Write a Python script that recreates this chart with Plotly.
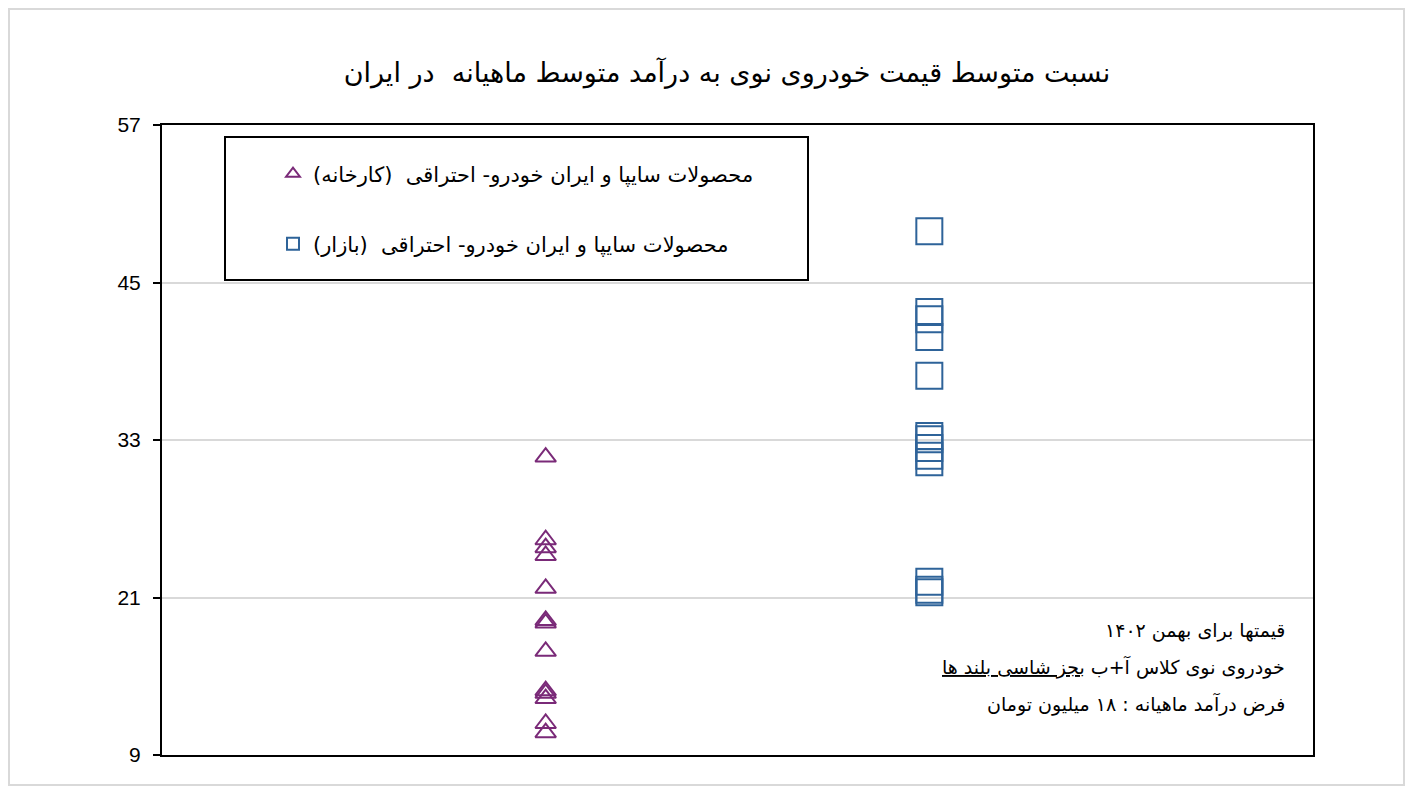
import plotly.graph_objects as go

# ratio of average new-car price to average monthly income
factory_vals = [31.7, 25.4, 24.8, 24.2, 21.7, 19.25, 19.05, 16.9, 13.9, 13.7, 13.3, 11.4, 10.7]
market_vals = [48.9, 42.75, 42.2, 40.85, 37.9, 33.3, 33.05, 32.4, 31.8, 31.3, 22.2, 21.6, 21.4]
factory_x = [1] * len(factory_vals)
market_x = [2] * len(market_vals)

factory_name = "محصولات سایپا و ایران خودرو- احتراقی  (کارخانه)"
market_name = "محصولات سایپا و ایران خودرو- احتراقی  (بازار)"
title_text = "نسبت متوسط قیمت خودروی نوی به درآمد متوسط ماهیانه  در ایران"
note_lines = [
    "قیمتها برای بهمن ۱۴۰۲",
    "خودروی نوی کلاس آ+ب <u>بجز شاسی بلند ها</u>",
    "فرض درآمد ماهیانه : ۱۸ میلیون تومان",
]
y_ticks = [9, 21, 33, 45, 57]

purple = "#7a2a78"
blue = "#2e6399"
txt_font = "DejaVu Sans, Noto Sans, sans-serif"

# page has an 8px body margin, so figure is a bit smaller than the window
OFF = 8
W, H = 1413 - 2 * OFF, 794 - 2 * OFF
L, T = 162 - OFF, 125 - OFF
pw, ph = 1151, 630
R, B = W - L - pw, H - T - ph


def px_x(p):
    # screen pixel -> paper x
    return (p - OFF - L) / pw


def px_y(p):
    # screen pixel -> paper y
    return (T + ph + OFF - p) / ph


fig = go.Figure()
fig.add_trace(go.Scatter(
    x=factory_x, y=factory_vals, mode="markers", name=factory_name, showlegend=True,
    marker=dict(symbol="triangle-up-open", size=18, color=purple, line=dict(width=2, color=purple)),
    legend="legend",
))
fig.add_trace(go.Scatter(
    x=market_x, y=market_vals, mode="markers", name=market_name, showlegend=True,
    marker=dict(symbol="square-open", size=26, color=blue, line=dict(width=2, color=blue)),
    legend="legend2",
))

legend_common = dict(
    xanchor="left", yanchor="middle", bgcolor="rgba(0,0,0,0)", visible=True,
    font=dict(family=txt_font, size=21, color="black"), itemsizing="constant",
)
fig.update_layout(
    width=W, height=H,
    margin=dict(l=L, r=R, t=T, b=B),
    showlegend=True,
    paper_bgcolor="white", plot_bgcolor="white",
    title=dict(text=title_text, x=px_x(727), xref="paper", y=1 - (73 - OFF) / H, yanchor="middle",
               font=dict(family=txt_font, size=27, color="black")),
    legend=dict(x=px_x(273), y=px_y(174), **legend_common),
    legend2=dict(x=px_x(273), y=px_y(244), **legend_common),
    xaxis=dict(range=[0, 3], showticklabels=False, showgrid=False, zeroline=False,
               showline=True, linecolor="black", linewidth=2, mirror=True, ticks=""),
    yaxis=dict(range=[9, 57], tickvals=y_ticks, showgrid=True, gridcolor="#d9d9d9", gridwidth=1.5,
               zeroline=False, showline=True, linecolor="black", linewidth=2, mirror=True,
               ticks="outside", ticklen=7, tickwidth=2, tickcolor="black", ticklabelstandoff=8,
               tickfont=dict(family="Liberation Sans, Arial, sans-serif", size=21, color="black")),
)

# legend frame
fig.add_shape(type="rect", xref="paper", yref="paper",
              x0=px_x(225), x1=px_x(808), y0=px_y(280), y1=px_y(137),
              line=dict(color="black", width=2), fillcolor="rgba(0,0,0,0)")
# outer figure border
fig.add_shape(type="rect", xref="paper", yref="paper",
              x0=px_x(OFF + 1), x1=px_x(OFF + W - 1), y0=px_y(OFF + H - 1), y1=px_y(OFF + 1),
              line=dict(color="#d9d9d9", width=2), fillcolor="rgba(0,0,0,0)")

for i, line in enumerate(note_lines):
    fig.add_annotation(text=line, xref="paper", yref="paper", x=px_x(1287), y=px_y(630 + 37 * i),
                       xanchor="right", yanchor="middle", showarrow=False,
                       font=dict(family=txt_font, size=19, color="black"))

fig.write_html("out.html")
